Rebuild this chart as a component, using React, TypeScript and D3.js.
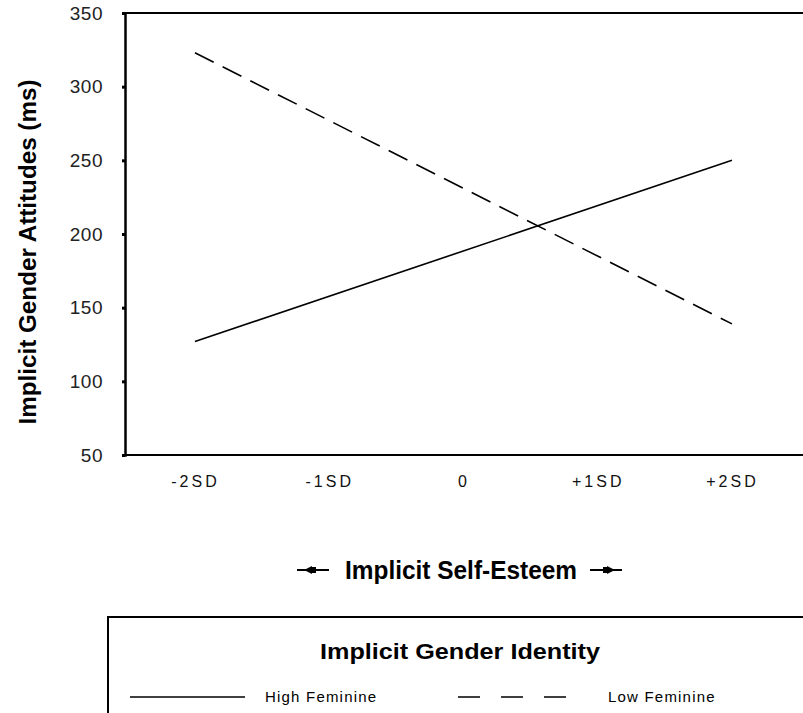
import React, { useEffect, useRef } from "react";
import * as d3 from "d3";

// x positions (in SD units) and their labels
const sdLevels = [-2, -1, 0, 1, 2];
const sdLabels = ["-2SD", "-1SD", "0", "+1SD", "+2SD"];
const yTicks = [50, 100, 150, 200, 250, 300, 350];

// simple slopes (ms)
const highFeminine = [127, 250];
const lowFeminine = [323, 139];
const lineLevels = [-2, 2];

const App = () => {
  const svgRef = useRef(null);
  const width = 803;
  const height = 713;
  const plot = { left: 125, top: 13, right: 803, bottom: 455 };

  useEffect(() => {
    const svg = d3.select(svgRef.current);
    svg.selectAll("*").remove();

    const x = d3
      .scaleLinear()
      .domain([-2.521, 2.529])
      .range([plot.left, plot.right]);

    const y = d3
      .scaleLinear()
      .domain([50, 350])
      .range([plot.bottom, plot.top]);

    const tickFont = "'Liberation Sans', Arial, sans-serif";

    // frame: top and bottom lines, left axis
    svg
      .append("line")
      .attr("x1", plot.left)
      .attr("x2", plot.right)
      .attr("y1", plot.top)
      .attr("y2", plot.top)
      .attr("stroke", "#000")
      .attr("stroke-width", 2);

    svg
      .append("line")
      .attr("x1", plot.left)
      .attr("x2", plot.right)
      .attr("y1", plot.bottom)
      .attr("y2", plot.bottom)
      .attr("stroke", "#000")
      .attr("stroke-width", 2);

    const yAxis = svg
      .append("g")
      .attr("transform", `translate(${plot.left},0)`)
      .call(d3.axisLeft(y).tickValues(yTicks).tickSize(3).tickPadding(19));
    yAxis.select(".domain").attr("stroke-width", 2.5);
    yAxis.selectAll(".tick line").attr("stroke-width", 3);
    yAxis
      .selectAll(".tick text")
      .style("font-family", tickFont)
      .style("font-size", "19px")
      .style("letter-spacing", "0.5px")
      .attr("fill", "#222");

    const xAxis = svg
      .append("g")
      .attr("transform", `translate(0,${plot.bottom})`)
      .call(
        d3
          .axisBottom(x)
          .tickValues(sdLevels)
          .tickFormat((d, i) => sdLabels[i])
          .tickSize(0)
          .tickPadding(21)
      );
    xAxis.select(".domain").remove();
    xAxis
      .selectAll(".tick text")
      .style("font-family", tickFont)
      .style("font-size", "16px")
      .style("letter-spacing", "3px")
      .attr("fill", "#111");

    // lines
    const line = d3
      .line()
      .x((d) => x(d[0]))
      .y((d) => y(d[1]));

    svg
      .append("path")
      .attr("d", line(lineLevels.map((l, i) => [l, highFeminine[i]])))
      .attr("fill", "none")
      .attr("stroke", "#000")
      .attr("stroke-width", 1.6);

    svg
      .append("path")
      .attr("d", line(lineLevels.map((l, i) => [l, lowFeminine[i]])))
      .attr("fill", "none")
      .attr("stroke", "#000")
      .attr("stroke-width", 1.6)
      .attr("stroke-dasharray", "21 10");

    // axis titles
    svg
      .append("text")
      .attr("transform", `translate(36,${(plot.top + plot.bottom) / 2 + 18}) rotate(-90)`)
      .attr("text-anchor", "middle")
      .attr("textLength", 345)
      .attr("lengthAdjust", "spacingAndGlyphs")
      .style("font-family", tickFont)
      .style("font-weight", "bold")
      .style("font-size", "24px")
      .text("Implicit Gender Attitudes (ms)");

    const xTitleY = 570;
    svg
      .append("text")
      .attr("x", 461)
      .attr("y", xTitleY + 9)
      .attr("text-anchor", "middle")
      .attr("textLength", 232)
      .attr("lengthAdjust", "spacingAndGlyphs")
      .style("font-family", tickFont)
      .style("font-weight", "bold")
      .style("font-size", "25px")
      .text("Implicit Self-Esteem");

    // little arrows either side of the x title
    const arrow = (x0, dir) => {
      const g = svg.append("g").attr("transform", `translate(${x0},${xTitleY})`);
      g.append("line")
        .attr("x1", -16)
        .attr("x2", 16)
        .attr("stroke", "#000")
        .attr("stroke-width", 2);
      g.append("path")
        .attr("d", dir < 0 ? "M-9,0L-1,-4L-1,4Z" : "M9,0L1,-4L1,4Z")
        .attr("fill", "#000");
      g.append("rect")
        .attr("x", -1)
        .attr("y", -3)
        .attr("width", 4)
        .attr("height", 6)
        .attr("transform", dir < 0 ? "" : "translate(-2,0)")
        .attr("fill", "#000");
    };
    arrow(313, -1);
    arrow(606, 1);

    // legend box (cropped at the right and bottom)
    const legendTop = 617;
    const legendLeft = 108;
    svg
      .append("path")
      .attr("d", `M${legendLeft},${height}V${legendTop}H${width}`)
      .attr("fill", "none")
      .attr("stroke", "#000")
      .attr("stroke-width", 2);

    svg
      .append("text")
      .attr("x", 460)
      .attr("y", 659)
      .attr("text-anchor", "middle")
      .attr("textLength", 280)
      .attr("lengthAdjust", "spacingAndGlyphs")
      .style("font-family", tickFont)
      .style("font-weight", "bold")
      .style("font-size", "22px")
      .text("Implicit Gender Identity");

    const legendY = 697;
    const legendItems = [
      { name: "High Feminine", dash: null, x0: 130, x1: 245, tx: 265 },
      { name: "Low Feminine", dash: "22 21", x0: 458, x1: 570, tx: 608 },
    ];
    legendItems.forEach((item) => {
      svg
        .append("line")
        .attr("x1", item.x0)
        .attr("x2", item.x1)
        .attr("y1", legendY)
        .attr("y2", legendY)
        .attr("stroke", "#000")
        .attr("stroke-width", 1.6)
        .attr("stroke-dasharray", item.dash);
      svg
        .append("text")
        .attr("x", item.tx)
        .attr("y", legendY + 5)
        .style("font-family", tickFont)
        .style("font-size", "15px")
        .style("letter-spacing", "1.2px")
        .text(item.name);
    });
  }, []);

  return (
    <svg
      ref={svgRef}
      width={width}
      height={height}
      style={{ position: "absolute", left: 0, top: 0, background: "#fff" }}
    ></svg>
  );
};

export default App;
